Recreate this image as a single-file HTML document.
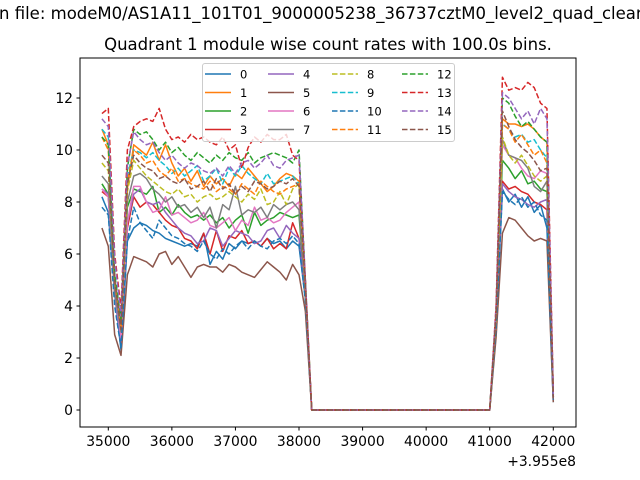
<!DOCTYPE html>
<html><head><meta charset="utf-8"><style>
body{margin:0;background:#fff;}
svg{display:block;font-family:"DejaVu Sans","Liberation Sans",sans-serif;}
</style></head><body>
<svg id="chart" width="640" height="480">
<text x="-1" y="19" font-size="16.5">n file: modeM0/AS1A11_101T01_9000005238_36737cztM0_level2_quad_clean</text>
<text x="328" y="50" font-size="16.5" text-anchor="middle">Quadrant 1 module wise count rates with 100.0s bins.</text>
<defs><clipPath id="clip"><rect x="80" y="58" width="496" height="369"/></clipPath></defs>
<g id="series" clip-path="url(#clip)"></g>
<rect x="80" y="58" width="496" height="369" fill="none" stroke="#000" stroke-width="1"/>
<g id="axes"></g>
<text x="576" y="466" font-size="13.9" text-anchor="end">+3.955e8</text>
<g id="legend"></g>
</svg>
<script>
const startTime = 34900;
const stepTime = 100;
const seg1 = [
[8.2,7.6,4.5,2.3,6.5,7.0,7.2,7.1,6.9,6.8,6.6,6.5,6.4,6.3,6.4,6.3,6.8,5.6,6.1,5.8,6.4,6.2,6.5,6.4,6.5,6.3,6.6,6.4,6.5,6.2,6.5,6.3,4.3],
[10.8,10.2,5,3,8.5,10.2,10.0,9.8,10.3,9.6,10.2,9.5,9.0,9.3,8.8,9.2,8.6,9.0,8.7,8.9,8.6,9.1,8.9,9.3,9.0,8.7,8.4,8.6,8.9,9.1,9.0,8.8,4.5],
[8.7,8.3,4.5,2.8,7.8,8.5,8.4,8.3,8.6,7.6,7.8,7.5,7.9,7.6,7.4,7.5,7.3,7.5,7.2,7.4,7.0,7.3,7.5,6.8,7.6,7.1,7.3,7.4,7.6,7.5,7.4,7.5,4.3],
[8.4,8.2,4.6,2.6,7.0,8.2,7.8,8.0,7.9,7.6,7.3,7.1,7.0,6.6,6.5,6.2,6.8,6.0,6.9,6.1,6.7,6.6,6.9,6.4,6.5,6.3,6.6,6.2,6.4,6.2,7.2,6.6,4.4],
[8.5,8.3,4.4,2.6,7.2,8.3,8.5,8.0,7.9,8.0,7.6,7.3,7.0,6.8,6.7,6.4,6.5,7.0,6.9,6.3,6.6,6.9,6.8,6.7,6.4,6.5,6.9,7.0,6.6,7.1,6.8,6.6,4.5],
[7.0,6.3,2.9,2.1,5.2,5.9,5.8,5.7,5.5,6.0,6.1,5.6,5.9,5.5,5.1,5.5,5.6,5.5,5.5,5.3,5.6,5.5,5.3,5.2,5.1,5.4,5.7,5.5,5.3,5.0,5.6,5.2,3.8],
[8.5,8.2,4.5,2.8,7.2,8.6,8.6,8.0,7.6,7.7,8.2,7.5,7.6,7.4,7.2,7.3,7.6,7.1,7.0,7.2,7.4,6.9,7.3,7.1,7.8,7.3,7.4,7.2,7.3,7.6,7.8,8.0,4.6],
[9.0,8.7,4.5,3.0,8.0,9.0,9.1,8.9,8.5,8.3,8.0,8.2,7.8,7.9,7.6,7.8,7.4,7.8,7.0,7.9,7.7,8.6,7.5,7.7,7.6,7.8,7.4,7.9,7.7,7.9,8.0,7.7,4.5],
[9.5,9.2,5,3.2,8.4,9.6,9.3,9.0,8.8,8.6,8.4,8.3,8.5,8.2,8.3,8.0,8.2,8.3,8.1,8.2,8.4,8.2,8.0,8.3,8.1,8.5,7.9,8.0,8.4,7.9,8.5,8.7,4.8],
[10.8,10.5,5.2,3.4,9.0,10.0,9.9,9.7,9.9,9.6,9.4,9.1,9.3,9.0,9.2,9.4,8.8,9.0,9.3,8.7,9.3,9.0,9.4,9.1,8.9,8.7,9.1,8.7,8.8,8.9,9.0,8.7,4.7],
[7.8,7.5,4,2.4,6.5,7.8,7.2,6.9,6.6,7.3,7.0,6.7,6.6,6.4,6.3,6.1,6.5,6.0,5.8,6.2,6.0,6.3,6.5,6.2,6.5,6.3,6.2,6.5,6.6,6.4,6.7,6.4,4.2],
[10.5,10,5,3.2,8.8,10,9.8,9.5,9.6,9.2,9.0,9.3,8.8,8.9,8.7,8.6,8.5,8.8,8.4,8.6,8.5,8.3,8.7,8.5,8.3,8.8,8.6,8.4,8.3,8.5,8.6,8.7,4.7],
[10.5,10.2,5.2,3.5,9.3,10.8,10.6,10.7,10.4,10.0,10.3,9.9,10.1,9.8,9.6,9.9,9.7,9.5,9.8,9.6,9.9,9.7,9.6,9.9,9.5,9.7,9.8,9.9,9.8,9.7,9.5,10.0,5],
[11.4,11.6,6,3.9,10.0,10.9,11.1,11.2,11.1,11.6,10.8,10.4,10.5,10.3,10.6,10.4,10.5,10.3,10.2,10.5,10.0,10.2,9.3,10.1,10.5,10.3,10.6,10.4,10.4,10.6,9.8,9.6,5],
[11.2,10.9,5.8,3.6,9.4,10.7,10.4,10.2,10.3,9.9,9.6,9.8,9.5,9.3,9.5,9.4,9.2,9.1,9.3,9.0,9.4,9.1,9.5,9.6,9.3,9.5,9.8,9.4,9.3,9.6,9.7,9.8,5],
[9.8,9.5,5,3.1,8.7,9.8,9.5,9.3,9.2,8.9,9.0,8.8,8.7,8.9,8.5,8.6,8.8,8.4,8.9,8.5,8.7,8.3,8.6,8.4,8.8,8.7,8.5,8.6,8.8,8.7,8.9,8.6,4.8]
];
const gapZeros = [0,0,0,0,0,0,0,0,0,0,0,0,0,0,0,0,0,0,0,0,0,0,0,0,0,0,0,0,0];
const seg2 = [
[3.0,8.5,8.0,8.3,7.8,8.2,7.6,7.9,7.0,0.3],
[3.6,11.2,11.0,11.0,10.9,11.0,10.8,10.5,10.3,0.5],
[3.4,9.6,9.3,8.9,9.2,8.7,8.8,8.5,8.4,0.4],
[3.3,8.8,8.5,8.6,8.4,8.3,8.0,7.9,7.7,0.4],
[3.3,8.7,8.4,8.2,8.1,7.9,7.8,8.0,8.1,0.4],
[2.8,6.8,7.4,7.3,7.0,6.7,6.5,6.6,6.5,0.3],
[3.4,10.2,9.8,9.7,9.3,9.0,8.9,9.2,9.1,0.5],
[3.5,10.4,9.8,9.7,9.6,9.3,8.6,8.4,8.8,0.5],
[3.5,10.5,9.8,9.5,9.8,9.4,9.0,8.8,9.0,0.5],
[3.7,11.0,10.8,10.5,10.6,10.3,10.4,10.0,9.7,0.6],
[3.2,8.4,8.1,7.9,8.2,7.8,8.0,7.5,7.3,0.4],
[3.6,11.0,10.8,10.3,10.6,10.2,9.8,10.0,9.5,0.6],
[3.8,12.0,11.8,11.3,10.9,11.1,10.8,10.5,10.3,0.6],
[4.0,12.8,12.3,12.4,12.3,12.6,12.4,11.8,11.6,0.7],
[3.9,12.2,12.0,11.6,11.2,11.5,11.0,11.6,11.2,0.6],
[3.7,11.5,10.9,10.4,10.1,9.9,9.6,9.2,9.3,0.5]
];
const seriesLabels = ["0","1","2","3","4","5","6","7","8","9","10","11","12","13","14","15"];
const xTicks = [35000,36000,37000,38000,39000,40000,41000,42000];
const yTicks = [0,2,4,6,8,10,12];

const colors = ["#1f77b4","#ff7f0e","#2ca02c","#d62728","#9467bd","#8c564b","#e377c2","#7f7f7f","#bcbd22","#17becf"];
const NS = "http://www.w3.org/2000/svg";
function xs(v){ return 108.3 + (v-35000)*0.06357; }
function ys(v){ return 410 - v*26; }
function mk(tag, attrs, parent){ const e=document.createElementNS(NS,tag); for(const k in attrs) e.setAttribute(k,attrs[k]); parent.appendChild(e); return e; }

const axes = document.getElementById('axes');
xTicks.forEach(t=>{
  const x = xs(t);
  const l = mk('line',{x1:x,x2:x,y1:427,y2:430.5,stroke:'#000'},axes);
  
  
  const tx = mk('text',{x:x,y:446,'font-size':13.9,'text-anchor':'middle'},axes);
  tx.textContent = t;
  
  
});
yTicks.forEach(t=>{
  const y = ys(t);
  const l = mk('line',{x1:76.5,x2:80,y1:y,y2:y,stroke:'#000'},axes);
  
  
  const tx = mk('text',{x:73,y:y+5,'font-size':13.9,'text-anchor':'end'},axes);
  tx.textContent = t;
  
  
});

const g = document.getElementById('series');
seriesLabels.forEach((lab,i)=>{
  const vals = seg1[i].concat(gapZeros, seg2[i]);
  const pts = vals.map((v,j)=> xs(startTime + j*stepTime).toFixed(2)+','+ys(v).toFixed(2)).join(' ');
  const p = mk('polyline',{points:pts,fill:'none',stroke:colors[i%10],'stroke-width':1.5,'stroke-linejoin':'round'},g);
  if(i>=8) p.setAttribute('stroke-dasharray','5.5,2.4');
  
  
});

const lg = document.getElementById('legend');
const box = mk('rect',{x:202.5,y:63.5,width:252,height:78,rx:2.5,fill:'#fff','fill-opacity':0.8,stroke:'#ccc'},lg);


const colX = [205,268,332,402];
const rowY = [74,92.5,111,129.5];
seriesLabels.forEach((lab,i)=>{
  const c = Math.floor(i/4), r = i%4;
  const x = colX[c], y = rowY[r];
  const l = mk('line',{x1:x,x2:x+26,y1:y,y2:y,stroke:colors[i%10],'stroke-width':1.5},lg);
  if(i>=8) l.setAttribute('stroke-dasharray','5.5,2.4');
  
  
  const t = mk('text',{x:x+35,y:y+4.5,'font-size':11.5},lg);
  t.textContent = lab;
  
  
});
</script>
</body></html>
